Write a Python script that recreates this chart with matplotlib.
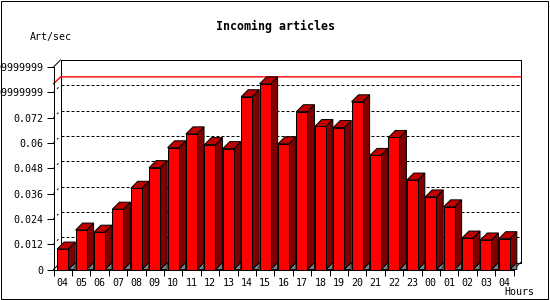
import matplotlib

matplotlib.use("Agg")

import matplotlib.pyplot as plt
from matplotlib.patches import Polygon, Rectangle

hours = ["04", "05", "06", "07", "08", "09", "10", "11", "12", "13", "14", "15", "16",
         "17", "18", "19", "20", "21", "22", "23", "00", "01", "02", "03", "04"]
art_per_sec = [0.0097, 0.0187, 0.0177, 0.0286, 0.0385, 0.0483, 0.0577, 0.0643, 0.0592,
               0.0573, 0.0819, 0.0880, 0.0596, 0.0748, 0.0678, 0.0673, 0.0795, 0.0541,
               0.0626, 0.0424, 0.0344, 0.0297, 0.0149, 0.0140, 0.0146]
y_ticks = [0, 0.012, 0.024, 0.036, 0.048, 0.06, 0.072, 0.084, 0.096]
y_tick_labels = ["0", "0.012", "0.024", "0.036", "0.048", "0.06", "0.072",
                 "0.0839999999999999", "0.0959999999999999"]

FONT = "DejaVu Sans Mono"
FRONT = "#ff0000"
TOP = "#c00000"
SIDE = "#800000"
SHADOW = "#808080"
LW = 0.72  # one pixel at 100 dpi
DEPTH_PX = 7

W, H = 550, 300
fig = plt.figure(figsize=(W / 100, H / 100), dpi=100)
fig.patch.set_facecolor("white")

left, right, y_zero, y_top = 53.5, 513.5, 269.5, 67.0
ax = fig.add_axes([left / W, (H - y_zero) / H, (right - left) / W, (y_zero - y_top) / H])
n = len(hours)
ymax = y_ticks[-1]
ax.set_xlim(0, n)
ax.set_ylim(0, ymax)
ax.patch.set_visible(False)
for side in ["top", "right"]:
    ax.spines[side].set_visible(False)
for side in ["left", "bottom"]:
    ax.spines[side].set_linewidth(LW)
    ax.spines[side].set_zorder(5)

# depth of the 3d effect, in data units
dx = DEPTH_PX / ((right - left) / n)
dy = DEPTH_PX / ((y_zero - y_top) / ymax)

ax.set_yticks(y_ticks)
ax.set_yticklabels(y_tick_labels, fontfamily=FONT, fontsize=7.2)
ax.tick_params(axis="y", length=5, width=LW, pad=2.5)
ax.set_xticks(range(n + 1))
ax.set_xticklabels([])
ax.tick_params(axis="x", which="major", length=4, width=LW)
ax.set_xticks([i + 0.5 for i in range(n)], minor=True)
ax.set_xticklabels(hours, minor=True, fontfamily=FONT, fontsize=7.2)
ax.tick_params(axis="x", which="minor", length=0, pad=6)

kw = dict(clip_on=False)
# back wall frame
ax.plot([dx, dx, n + dx, n + dx], [dy, ymax + dy, ymax + dy, dy], color="black", lw=LW, **kw)
ax.plot([dx, n + dx], [dy, dy], color="black", lw=LW, **kw)
ax.plot([0, dx], [ymax, ymax + dy], color="black", lw=LW, **kw)
ax.plot([0, dx], [0, dy], color="black", lw=LW, **kw)
ax.plot([n, n + dx], [0, dy], color="black", lw=LW, **kw)

# dotted grid on the back wall (straight part kept separate so it snaps to pixels)
for t in y_ticks[1:-1]:
    ax.plot([0, dx], [t, t + dy], color="black", lw=LW, linestyle=(0, (2, 3)), **kw)
    ax.plot([dx, n + dx], [t + dy, t + dy], color="black", lw=LW,
            linestyle=(0, (3, 2)), **kw)

# max line
vmax = max(art_per_sec)
ax.plot([0, dx, n + dx], [vmax, vmax + dy, vmax + dy], color="red", lw=LW * 1.4, **kw)

# bars
for i, v in enumerate(art_per_sec):
    x0, x1 = i + 0.2, i + 0.8
    ax.add_patch(Polygon([(x1, 0), (x1 + dx, dy), (x1 + dx, 0)], closed=True,
                         fc=SHADOW, ec="black", lw=LW, zorder=3, **kw))
    ax.add_patch(Polygon([(x1, 0), (x1, v), (x1 + dx, v + dy), (x1 + dx, dy)], closed=True,
                         fc=SIDE, ec="black", lw=LW, zorder=3, **kw))
    ax.add_patch(Polygon([(x0, v), (x0 + dx, v + dy), (x1 + dx, v + dy), (x1, v)], closed=True,
                         fc=TOP, ec="black", lw=LW, zorder=3, **kw))
    ax.add_patch(Rectangle((x0, 0), x1 - x0, v, fc=FRONT, ec="black", lw=LW, zorder=4, **kw))

fig.text(275 / W, 1 - 26.7 / H, "Incoming articles", ha="center", va="center",
         fontfamily=FONT, fontweight="bold", fontsize=8.4)
fig.text(30 / W, 1 - 37 / H, "Art/sec", ha="left", va="center", fontfamily=FONT, fontsize=7.2)
fig.text(534 / W, 1 - 291.7 / H, "Hours", ha="right", va="center", fontfamily=FONT, fontsize=7.2)

fig.add_artist(Rectangle((0.5 / W, 1.5 / H), 547.5 / W, 298 / H, transform=fig.transFigure,
                         fill=False, ec="black", lw=LW))

fig.savefig("out.png", dpi=100)
